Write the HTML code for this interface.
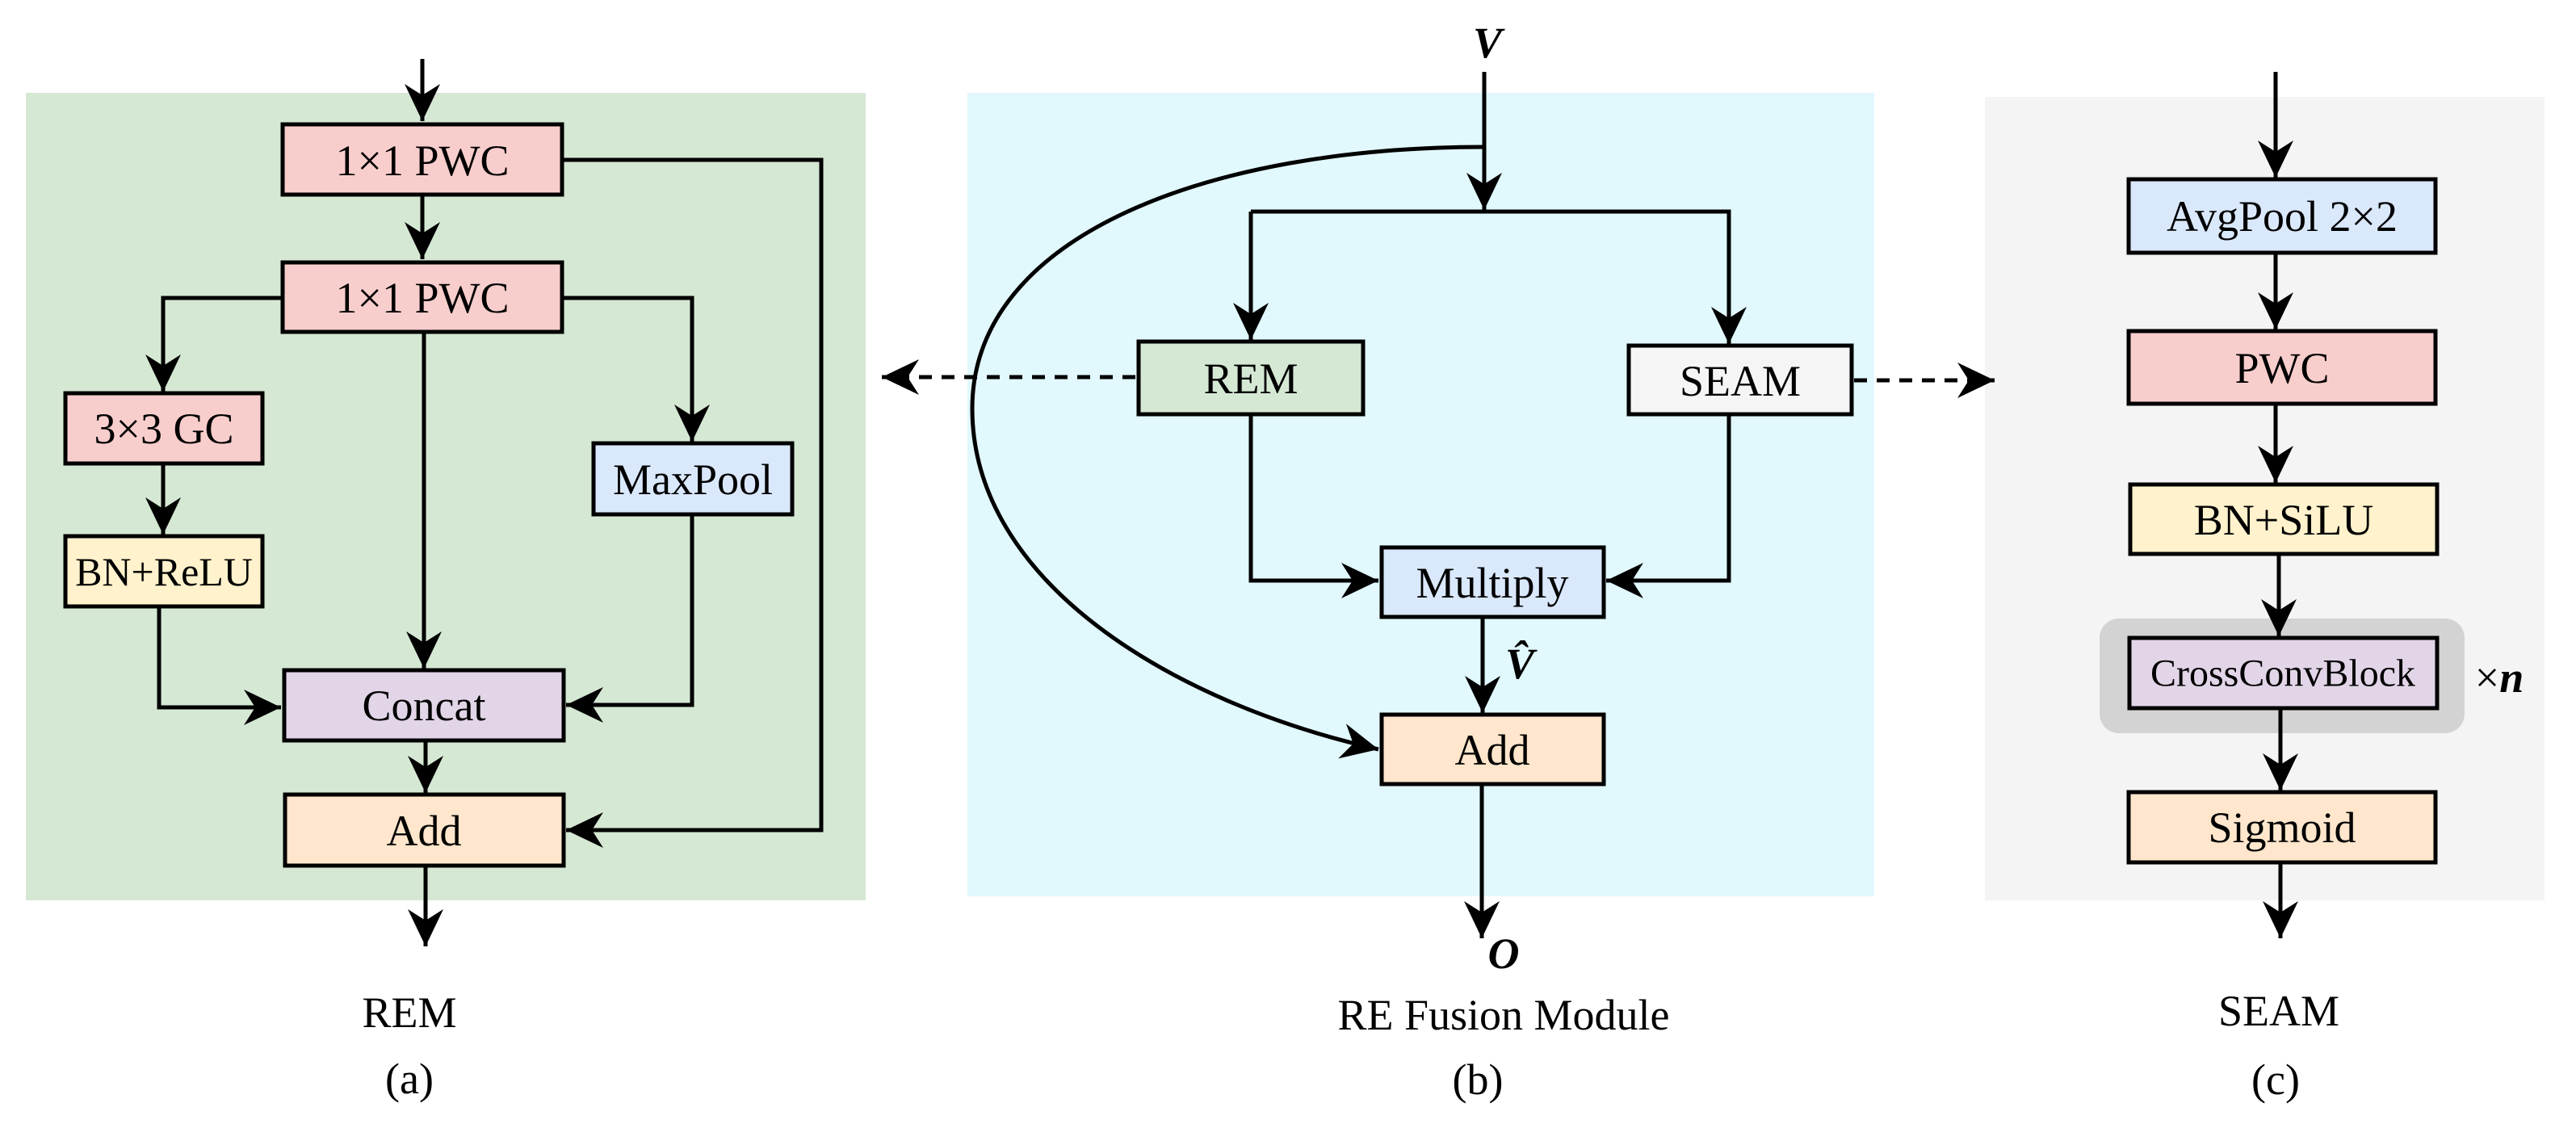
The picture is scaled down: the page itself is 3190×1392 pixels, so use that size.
<!DOCTYPE html>
<html><head><meta charset="utf-8"><style>
html,body{margin:0;padding:0;background:#fff}
svg{display:block}
text{font-family:"Liberation Serif","DejaVu Serif","Times New Roman",serif;fill:#000}
</style></head><body>
<svg width="3190" height="1392" viewBox="0 0 3190 1392" xmlns="http://www.w3.org/2000/svg">
<defs>
<marker id="a" markerUnits="userSpaceOnUse" viewBox="-48 -24 50 48" markerWidth="50" markerHeight="48" refX="0" refY="0" orient="auto">
<path d="M0,0 L-46,-22 L-32,0 L-46,22 Z" fill="#000"/>
</marker>
</defs>
<rect x="32" y="115" width="1040" height="1000" fill="#d5e8d4"/>
<rect x="1198" y="115" width="1123" height="995" fill="#e1f8fd"/>
<rect x="2458" y="120" width="693" height="995" fill="#f4f4f4"/>
<rect x="2600" y="766" width="452" height="142" rx="24" fill="#d3d3d3"/>

<g stroke="#000" stroke-width="5" fill="none">
<line x1="523" y1="73" x2="523" y2="150" marker-end="url(#a)"/>
<line x1="523" y1="243" x2="523" y2="321" marker-end="url(#a)"/>
<polyline points="698,198 1017,198 1017,1028 701,1028" marker-end="url(#a)"/>
<polyline points="348,369 202,369 202,485" marker-end="url(#a)"/>
<line x1="202" y1="574" x2="202" y2="662" marker-end="url(#a)"/>
<polyline points="698,369 857,369 857,547" marker-end="url(#a)"/>
<line x1="525" y1="413" x2="525" y2="828" marker-end="url(#a)"/>
<polyline points="197,751 197,876 348,876" marker-end="url(#a)"/>
<polyline points="857,637 857,873 701,873" marker-end="url(#a)"/>
<line x1="527" y1="917" x2="527" y2="982" marker-end="url(#a)"/>
<line x1="527" y1="1072" x2="527" y2="1172" marker-end="url(#a)"/>
<line x1="1838" y1="89" x2="1838" y2="260" marker-end="url(#a)"/>
<polyline points="1549,262 1549,421" marker-end="url(#a)"/>
<polyline points="1549,262 2141,262 2141,426" marker-end="url(#a)"/>
<polyline points="1549,513 1549,719 1707,719" marker-end="url(#a)"/>
<polyline points="2141,513 2141,719 1989,719" marker-end="url(#a)"/>
<line x1="1836" y1="764" x2="1836" y2="883" marker-end="url(#a)"/>
<line x1="1835" y1="971" x2="1835" y2="1162" marker-end="url(#a)"/>
<path d="M1838,182 C1500,182 1204,290 1204,506 C1204,720 1450,870 1707,928" marker-end="url(#a)"/>
<line x1="1406" y1="467" x2="1092" y2="467" stroke-dasharray="16,12" marker-end="url(#a)"/>
<line x1="2296" y1="471" x2="2470" y2="471" stroke-dasharray="16,12" marker-end="url(#a)"/>
<line x1="2818" y1="89" x2="2818" y2="220" marker-end="url(#a)"/>
<line x1="2818" y1="313" x2="2818" y2="408" marker-end="url(#a)"/>
<line x1="2818" y1="500" x2="2818" y2="598" marker-end="url(#a)"/>
<line x1="2822" y1="686" x2="2822" y2="788" marker-end="url(#a)"/>
<line x1="2824" y1="877" x2="2824" y2="979" marker-end="url(#a)"/>
<line x1="2824" y1="1068" x2="2824" y2="1162" marker-end="url(#a)"/>
</g>

<g stroke="#000" stroke-width="5">
<rect x="350" y="154" width="346" height="87" fill="#f8cecc"/>
<rect x="350" y="325" width="346" height="86" fill="#f8cecc"/>
<rect x="81" y="487" width="244" height="87" fill="#f8cecc"/>
<rect x="81" y="664" width="244" height="87" fill="#fff2cc"/>
<rect x="735" y="549" width="246" height="88" fill="#dae8fc"/>
<rect x="352" y="830" width="346" height="87" fill="#e1d5e7"/>
<rect x="353" y="984" width="345" height="88" fill="#ffe6cc"/>
<rect x="1410" y="423" width="278" height="90" fill="#d5e8d4"/>
<rect x="2017" y="428" width="276" height="85" fill="#f5f5f5"/>
<rect x="1711" y="678" width="275" height="86" fill="#dae8fc"/>
<rect x="1711" y="885" width="275" height="86" fill="#ffe6cc"/>
<rect x="2636" y="222" width="380" height="91" fill="#dae8fc"/>
<rect x="2636" y="410" width="380" height="90" fill="#f8cecc"/>
<rect x="2638" y="600" width="380" height="86" fill="#fff2cc"/>
<rect x="2637" y="790" width="381" height="87" fill="#e1d5e7"/>
<rect x="2636" y="981" width="380" height="87" fill="#ffe6cc"/>
</g>

<g font-family="'Liberation Serif','DejaVu Serif',serif" font-size="54" text-anchor="middle" dominant-baseline="central">
<text x="523" y="199">1×1 PWC</text>
<text x="523" y="369">1×1 PWC</text>
<text x="203" y="531">3×3 GC</text>
<text x="203" y="708" font-size="50">BN+ReLU</text>
<text x="858" y="594">MaxPool</text>
<text x="525" y="874">Concat</text>
<text x="525" y="1029">Add</text>
<text x="1549" y="469">REM</text>
<text x="2155" y="472" fill="#444">SEAM</text>
<text x="1848" y="722">Multiply</text>
<text x="1848" y="929">Add</text>
<text x="2826" y="268">AvgPool 2×2</text>
<text x="2826" y="456">PWC</text>
<text x="2828" y="644">BN+SiLU</text>
<text x="2827" y="834" font-size="48">CrossConvBlock</text>
<text x="2826" y="1025">Sigmoid</text>
<text x="3095" y="839">×<tspan font-style="italic" font-weight="bold">n</tspan></text>
<text x="1842" y="53" font-style="italic" font-weight="bold">V</text>
<text x="1882" y="822" font-style="italic" font-weight="bold">V̂</text>
<text x="1862" y="1181" font-style="italic" font-weight="bold">O</text>
<text x="507" y="1254">REM</text>
<text x="507" y="1336">(a)</text>
<text x="1862" y="1257">RE Fusion Module</text>
<text x="1830" y="1337">(b)</text>
<text x="2822" y="1252">SEAM</text>
<text x="2818" y="1337">(c)</text>
</g>
</svg>
</body></html>
